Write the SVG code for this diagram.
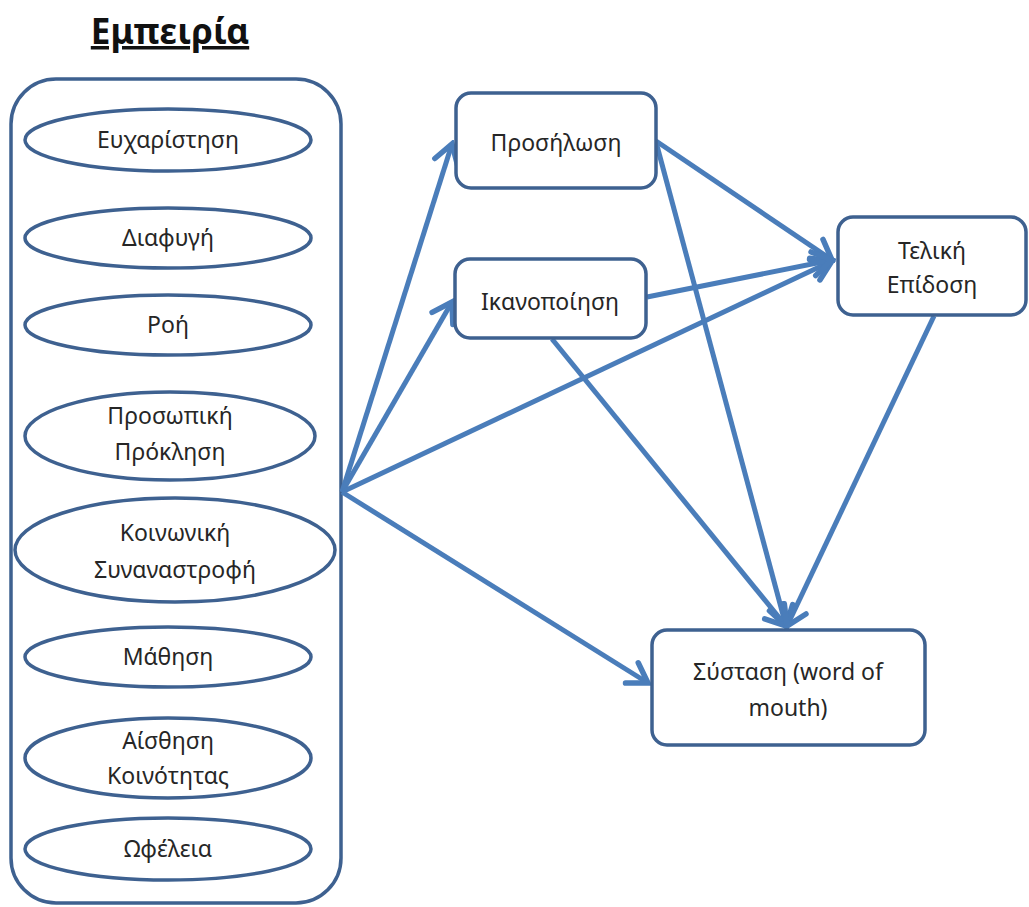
<svg xmlns="http://www.w3.org/2000/svg" width="1029" height="907" viewBox="0 0 1029 907">
<defs>
<style>
.bg{fill:#ffffff}
.node{fill:#ffffff;stroke:#3E6190;stroke-width:3.5}
.cont{fill:none;stroke:#3E6190;stroke-width:3.5}
.lbl{font-family:"Noto Sans","Open Sans",sans-serif;font-size:23px;fill:#262626;text-anchor:middle}
.title{font-family:"Noto Sans","Open Sans",sans-serif;font-size:35px;font-weight:bold;fill:#111;text-anchor:middle;text-decoration:underline}
.edge{fill:none;stroke:#4A7DBA;stroke-width:5;marker-end:url(#arr)}
</style>
<marker id="arr" markerUnits="userSpaceOnUse" viewBox="-24 -16 28 32" refX="0" refY="0" markerWidth="28" markerHeight="32" orient="auto">
<path d="M-19,-12 L0,0 L-19,12" fill="none" stroke="#4A7DBA" stroke-width="5.5" stroke-linecap="round" stroke-linejoin="miter"/>
</marker>
</defs>
<rect class="bg" x="0" y="0" width="1029" height="907"/>
<g id="title"><text class="title" x="170" y="44">Εμπειρία</text></g>
<g id="container"><rect class="cont" x="11" y="79" width="330" height="824" rx="45"/></g>
<g id="e1"><ellipse class="node" cx="168" cy="140" rx="143" ry="31"/><text class="lbl" x="168" y="148">Ευχαρίστηση</text></g>
<g id="e2"><ellipse class="node" cx="168" cy="238" rx="143" ry="30"/><text class="lbl" x="168" y="246">Διαφυγή</text></g>
<g id="e3"><ellipse class="node" cx="168" cy="325" rx="143" ry="30"/><text class="lbl" x="168" y="333">Ροή</text></g>
<g id="e4"><ellipse class="node" cx="170" cy="436" rx="145" ry="44"/><text class="lbl" x="170" y="424">Προσωπική</text><text class="lbl" x="170" y="460">Πρόκληση</text></g>
<g id="e5"><ellipse class="node" cx="175" cy="550" rx="160" ry="52"/><text class="lbl" x="175" y="541">Κοινωνική</text><text class="lbl" x="175" y="578">Συναναστροφή</text></g>
<g id="e6"><ellipse class="node" cx="168" cy="657" rx="143" ry="30"/><text class="lbl" x="168" y="665">Μάθηση</text></g>
<g id="e7"><ellipse class="node" cx="168" cy="758" rx="143" ry="40"/><text class="lbl" x="168" y="749">Αίσθηση</text><text class="lbl" x="168" y="784">Κοινότητας</text></g>
<g id="e8"><ellipse class="node" cx="168" cy="849" rx="143" ry="31"/><text class="lbl" x="168" y="857">Ωφέλεια</text></g>
<g id="edges">
<line class="edge" x1="342" y1="492" x2="452" y2="144"/>
<line class="edge" x1="342" y1="492" x2="452" y2="302"/>
<line class="edge" x1="342" y1="492" x2="832" y2="261"/>
<line class="edge" x1="342" y1="492" x2="648" y2="683"/>
<line class="edge" x1="656" y1="141" x2="832" y2="260"/>
<line class="edge" x1="656" y1="142" x2="786" y2="626"/>
<line class="edge" x1="647" y1="297" x2="832" y2="260"/>
<line class="edge" x1="552" y1="339" x2="786" y2="626"/>
<line class="edge" x1="934" y1="316" x2="787" y2="626"/>
</g>
<g id="prosilosi"><rect class="node" x="456" y="93" width="200" height="95" rx="15"/><text class="lbl" x="556" y="151">Προσήλωση</text></g>
<g id="ikanopoiisi"><rect class="node" x="455" y="259" width="191" height="79" rx="15"/><text class="lbl" x="550" y="310">Ικανοποίηση</text></g>
<g id="teliki"><rect class="node" x="838" y="217" width="188" height="98" rx="15"/><text class="lbl" x="932" y="259">Τελική</text><text class="lbl" x="932" y="293">Επίδοση</text></g>
<g id="systasi"><rect class="node" x="652" y="630" width="273" height="115" rx="15"/><text class="lbl" x="788" y="680">Σύσταση (word of</text><text class="lbl" x="788" y="716">mouth)</text></g>
</svg>
